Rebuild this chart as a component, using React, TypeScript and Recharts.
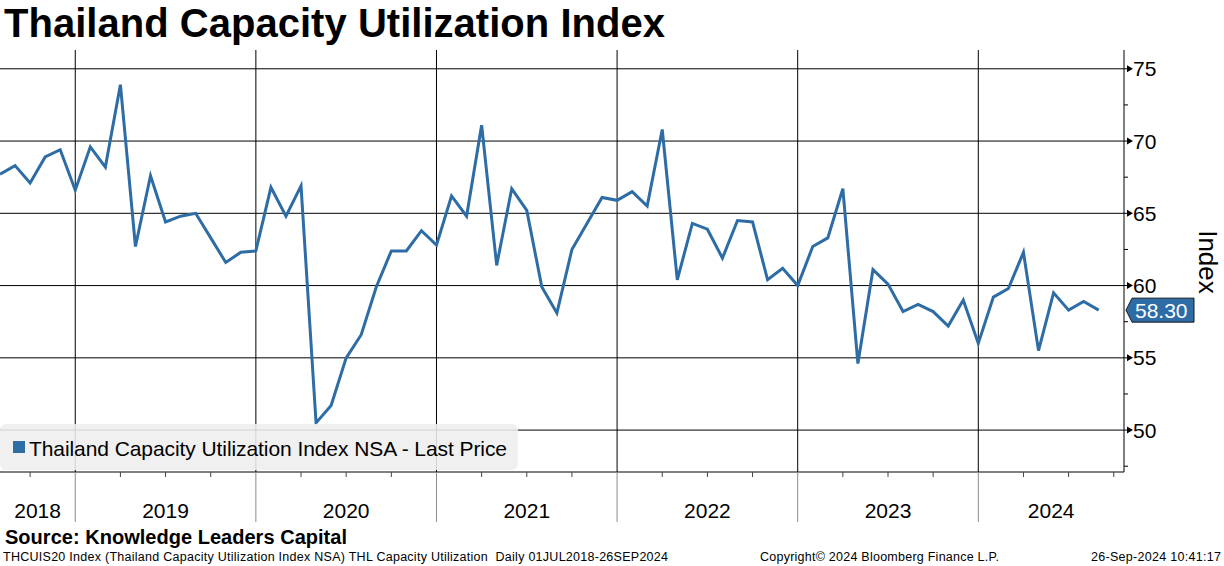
import React from 'react';
import { LineChart, Line, XAxis, YAxis, ReferenceLine } from 'recharts';

// ---- Data (monthly, Jul 2018 .. Aug 2024) ----
const values: number[] = [
  67.7, 68.3, 67.1, 68.9, 69.4, 66.6, // 2018 Jul-Dec
  69.6, 68.2, 73.9, 62.7, 67.6, 64.4, 64.8, 65.0, 63.3, 61.6, 62.3, 62.4, // 2019
  66.8, 64.8, 66.9, 50.5, 51.7, 55.0, 56.6, 59.9, 62.4, 62.4, 63.8, 62.8, // 2020
  66.2, 64.8, 71.1, 61.4, 66.7, 65.2, 59.9, 58.1, 62.5, 64.3, 66.1, 65.9, // 2021
  66.5, 65.5, 70.8, 60.4, 64.3, 63.9, 61.9, 64.5, 64.4, 60.4, 61.2, 60.0, // 2022
  62.7, 63.3, 66.7, 54.6, 61.1, 60.1, 58.2, 58.7, 58.2, 57.2, 59.0, 56.0, // 2023
  59.2, 59.8, 62.3, 55.5, 59.5, 58.3, 58.9, 58.3, // 2024 Jan-Aug
];
const startYear = 2018;
const startMonth = 6; // July (0-based)
const monthLabels: string[] = values.map((_, i) => {
  const m = startMonth + i;
  return `${startYear + Math.floor(m / 12)}-${String((m % 12) + 1).padStart(2, '0')}`;
});
const data = values.map((v, i) => ({ i, month: monthLabels[i], v }));

const yearLabels: string[] = ['2018', '2019', '2020', '2021', '2022', '2023', '2024'];
const yearBoundaries: number[] = [5, 17, 29, 41, 53, 65];
const xDomain: [number, number] = [0, 74.68];
const yDomain: [number, number] = [47.1, 76.3];
const majorYTicks: number[] = [50, 55, 60, 65, 70, 75];
const minorYTicks: number[] = [47.5, 52.5, 57.5, 62.5, 67.5, 72.5];
const lastValue = values[values.length - 1];

const quarterTicks: number[] = [];
for (let i = 2; i <= 74; i += 3) if (!yearBoundaries.includes(i)) quarterTicks.push(i);
const yearCenters: number[] = yearLabels.map((_, k) => {
  const a = k === 0 ? xDomain[0] : yearBoundaries[k - 1];
  const b = k === yearLabels.length - 1 ? xDomain[1] : yearBoundaries[k];
  return (a + b) / 2;
});
const xTicks: number[] = Array.from(new Set([...quarterTicks, ...yearBoundaries, ...yearCenters])).sort((a, b) => a - b);
const yTicks: number[] = [...minorYTicks, ...majorYTicks, lastValue];

const BLUE = '#2d6ca5';
const FONT = '"Liberation Sans", Arial, sans-serif';

const XTick = (props: any) => {
  const { x, y, payload } = props;
  const v = payload.value;
  const parts: React.ReactNode[] = [];
  if (quarterTicks.includes(v)) parts.push(<line key="q" x1={x} x2={x} y1={y} y2={y + 5} stroke="#444" strokeWidth={1} />);
  if (yearBoundaries.includes(v)) parts.push(<line key="b" x1={x} x2={x} y1={y} y2={y + 50} stroke="#8a8a8a" strokeWidth={1} />);
  const k = yearCenters.indexOf(v);
  if (k >= 0)
    parts.push(
      <text key="l" x={x} y={y + 46} textAnchor="middle" fontSize={21} fontFamily={FONT} fill="#000">
        {yearLabels[k]}
      </text>
    );
  return <g>{parts}</g>;
};

const YTick = (props: any) => {
  const { x, y, payload } = props;
  const v = payload.value;
  if (v === lastValue && !majorYTicks.includes(v) && !minorYTicks.includes(v)) {
    return (
      <g>
        <polygon
          points={`${x + 2},${y} ${x + 8},${y - 12} ${x + 70},${y - 12} ${x + 70},${y + 12} ${x + 8},${y + 12}`}
          fill={BLUE}
          stroke="#1a1a1a"
          strokeWidth={1}
        />
        <text x={x + 11} y={y} dominantBaseline="central" fontSize={21} fontFamily={FONT} fill="#fff">
          {lastValue.toFixed(2)}
        </text>
      </g>
    );
  }
  if (majorYTicks.includes(v)) {
    return (
      <g>
        <line x1={x} x2={x + 6} y1={y} y2={y} stroke="#000" strokeWidth={1} />
        <polygon points={`${x + 3},${y - 3.5} ${x + 9},${y} ${x + 3},${y + 3.5}`} fill="#000" />
        <text x={x + 9} y={y} dominantBaseline="central" fontSize={21} fontFamily={FONT} fill="#000">
          {v}
        </text>
      </g>
    );
  }
  return <line x1={x} x2={x + 4} y1={y} y2={y} stroke="#000" strokeWidth={1} />;
};

export default function App() {
  return (
    <div style={{ position: 'absolute', left: 0, top: 0, width: 1224, height: 566, background: '#fff', fontFamily: FONT }}>
      <LineChart width={1224} height={566} data={data} margin={{ top: 50, right: 0, bottom: 0, left: 0 }}>
        <XAxis
          dataKey="i"
          type="number"
          domain={xDomain}
          allowDataOverflow
          ticks={xTicks}
          interval={0}
          tick={XTick}
          tickLine={false}
          tickSize={0}
          tickMargin={0}
          height={94}
          axisLine={{ stroke: '#000', strokeWidth: 1 }}
        />
        <YAxis
          orientation="right"
          type="number"
          domain={yDomain}
          allowDataOverflow
          ticks={yTicks}
          interval={0}
          tick={YTick}
          tickLine={false}
          tickSize={0}
          tickMargin={0}
          width={100}
          axisLine={{ stroke: '#000', strokeWidth: 1 }}
        />
        {majorYTicks.map((t) => (
          <ReferenceLine key={'h' + t} y={t} stroke="#000" strokeWidth={1} />
        ))}
        {yearBoundaries.map((b) => (
          <ReferenceLine key={'v' + b} x={b} stroke="#000" strokeWidth={1} />
        ))}
        <Line type="linear" dataKey="v" stroke={BLUE} strokeWidth={3} dot={false} isAnimationActive={false} />
      </LineChart>
      <svg width={1224} height={566} style={{ position: 'absolute', left: 0, top: 0, pointerEvents: 'none' }}>
        <text x={4} y={37} fontSize={40} fontWeight="bold" fontFamily={FONT} fill="#000" textLength={661} lengthAdjust="spacing">
          Thailand Capacity Utilization Index
        </text>
        <rect x={0} y={424} width={518} height={46} rx={6} ry={6} fill="#eeeeee" fillOpacity={0.88} />
        <rect x={13} y={441} width={12} height={12} fill={BLUE} />
        <text x={29} y={456} fontSize={21} fontFamily={FONT} fill="#000" textLength={478} lengthAdjust="spacing">
          Thailand Capacity Utilization Index NSA - Last Price
        </text>
        <text x={1199} y={262} fontSize={26} fontFamily={FONT} fill="#000" textAnchor="middle" transform="rotate(90 1199 262)">
          Index
        </text>
        <text x={5} y={544} fontSize={20} fontWeight="bold" fontFamily={FONT} fill="#000" textLength={342} lengthAdjust="spacing">
          Source: Knowledge Leaders Capital
        </text>
        <text x={3} y={561} fontSize={12.5} fontFamily={FONT} fill="#000" style={{ whiteSpace: 'pre' }} textLength={665} lengthAdjust="spacing">
          {'THCUIS20 Index (Thailand Capacity Utilization Index NSA) THL Capacity Utilization  Daily 01JUL2018-26SEP2024'}
        </text>
        <text x={760} y={561} fontSize={12.5} fontFamily={FONT} fill="#000" textLength={239} lengthAdjust="spacing">
          Copyright© 2024 Bloomberg Finance L.P.
        </text>
        <text x={1091} y={561} fontSize={12.5} fontFamily={FONT} fill="#000" textLength={130} lengthAdjust="spacing">
          26-Sep-2024 10:41:17
        </text>
      </svg>
    </div>
  );
}
